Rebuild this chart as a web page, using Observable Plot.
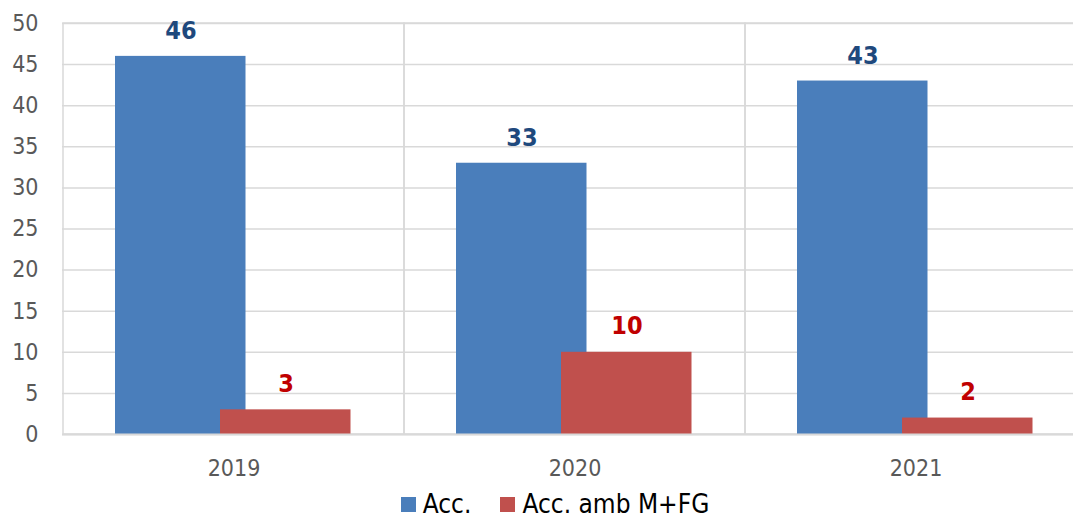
<!DOCTYPE html>
<html>
<head>
<meta charset="utf-8">
<script src="https://cdn.jsdelivr.net/npm/d3@7"></script>
<script src="https://cdn.jsdelivr.net/npm/@observablehq/plot@0.6"></script>
<style>
  html, body { margin: 0; padding: 0; background: #fff; overflow: hidden; }
  body { width: 1073px; height: 517px; font-family: "DejaVu Sans Condensed", "DejaVu Sans", sans-serif; }
  #chart svg { display: block; }
  #legend { box-sizing: border-box; display: flex; justify-content: center; align-items: center; height: 35px; padding-top: 9px; padding-left: 37px; font-size: 26px; line-height: 26px; color: #000; }
  .item { display: flex; align-items: center; }
  .sw { width: 15px; height: 15px; margin-right: 7px; }
  .gap { width: 29px; }
</style>
</head>
<body>
<div id="chart"></div>
<div id="legend"></div>
<script>
const years = ["2019", "2020", "2021"];
const acc = [46, 33, 43];
const accAmb = [3, 10, 2];
const seriesNames = ["Acc.", "Acc. amb M+FG"];
const seriesColors = ["#4a7ebb", "#c0504d"];
const labelColors = ["#1f497d", "#c00000"];
const yTicks = [0, 5, 10, 15, 20, 25, 30, 35, 40, 45, 50];

const rowsA = years.map((y, i) => ({year: y, value: acc[i]}));
const rowsB = years.map((y, i) => ({year: y, value: accAmb[i]}));

const plot = Plot.plot({
  width: 1073,
  height: 482,
  marginLeft: 62,
  marginTop: 23,
  marginBottom: 48,
  marginRight: 0,
  style: {fontFamily: "'DejaVu Sans Condensed', 'DejaVu Sans', sans-serif", background: "#fff", overflow: "hidden"},
  x: {domain: years, range: [62, 1086.5], padding: 0, label: null},
  y: {domain: [0, 50], label: null},
  marks: [
    Plot.gridY(yTicks, {stroke: "#d9d9d9", strokeOpacity: 1, strokeWidth: 1.5}),
    Plot.barY(years, {x: d => d, y1: 0, y2: 50, fill: "none", stroke: "#d9d9d9", strokeWidth: 1.5}),
    Plot.axisY(yTicks, {tickSize: 0, tickPadding: 24, fontSize: 23, fill: "#595959", label: null}),
    Plot.axisX({tickSize: 0, tickPadding: 25, fontSize: 23, fill: "#595959", label: null}),
    Plot.barY(rowsA, {x: "year", y: "value", fill: seriesColors[0], insetLeft: 52, insetRight: 158.5}),
    Plot.barY(rowsB, {x: "year", y: "value", fill: seriesColors[1], insetLeft: 157, insetRight: 53.5}),
    Plot.ruleY([0], {stroke: "#d9d9d9", strokeWidth: 2}),
    Plot.text(rowsA, {x: "year", y: "value", text: d => String(d.value), dx: -53, dy: -25, lineAnchor: "middle", fontSize: 25, fontWeight: "bold", fill: labelColors[0]}),
    Plot.text(rowsB, {x: "year", y: "value", text: d => String(d.value), dx: 52, dy: -26, lineAnchor: "middle", fontSize: 25, fontWeight: "bold", fill: labelColors[1]})
  ]
});
document.getElementById("chart").appendChild(plot);

const legend = document.getElementById("legend");
seriesNames.forEach((name, i) => {
  if (i > 0) { const g = document.createElement("span"); g.className = "gap"; legend.appendChild(g); }
  const item = document.createElement("span");
  item.className = "item";
  const sw = document.createElement("span");
  sw.className = "sw";
  sw.style.background = seriesColors[i];
  const t = document.createElement("span");
  t.textContent = name;
  item.appendChild(sw);
  item.appendChild(t);
  legend.appendChild(item);
});
</script>
</body>
</html>
